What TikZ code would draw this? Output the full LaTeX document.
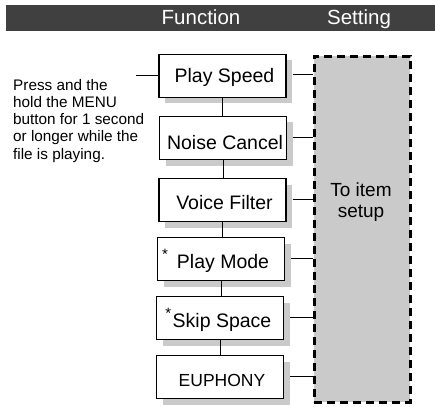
\documentclass[tikz,border=0pt]{standalone}
\usepackage{fontspec}
\setmainfont{Liberation Sans}
\usetikzlibrary{shadows}
\definecolor{hdr}{HTML}{404040}
\definecolor{shd}{HTML}{CACACA}
\newcommand{\astr}{\raisebox{9pt}{\fontsize{15}{15}\selectfont *}}
\begin{document}
\begin{tikzpicture}[x=1pt,y=-1pt,
  fbox/.style={draw=black, line width=1.1pt, fill=white,
    minimum width=127pt, minimum height=43pt, inner sep=0pt,
    text height=18pt, text depth=0pt,
    general shadow={fill=shd, shadow xshift=6pt, shadow yshift=-6pt},
    font=\fontsize{19.5}{22}\selectfont,
    execute at begin node=\hspace*{4pt}},
  conn/.style={line width=1pt},
  hdrtext/.style={text=white, font=\fontsize{20.5}{24}\selectfont, inner sep=0pt, anchor=base}
  ]
\useasboundingbox (0,0) rectangle (435,406);
% header
\fill[hdr] (6,5) rectangle (435,31);
\node[hdrtext] (hf) at (201,25) {Function};
\node[hdrtext] (hs) at (359,25) {Setting};
% setting box
\node[draw=black, dash pattern=on 8pt off 5pt, line width=2.6pt, fill=shd,
  minimum width=96pt, minimum height=346pt, inner sep=0pt, anchor=north west] (set) at (313,55) {};
\node[align=center, anchor=north, inner sep=0pt,
  font=\fontsize{19}{20.5}\selectfont] (to) at (361,183) {To item\\setup};
% function boxes
\node[fbox, text height=14pt] (ps) at (222.5,76) {Play Speed};
\node[fbox, text height=22pt] (nc) at (223,138) {Noise Cancel};
\node[fbox] (vf) at (222.5,200) {Voice Filter};
\node[fbox] (pm) at (221,259) {\llap{\astr\hspace{9pt}}Play Mode};
\node[fbox] (ss) at (220,318) {\llap{\astr\hspace{1.5pt}}Skip Space};
\node[fbox, font=\fontsize{17.5}{20}\selectfont] (eu) at (220,377) {EUPHONY};
% left text
\node[align=left, anchor=north west, inner sep=0pt,
  font=\fontsize{15.3}{17.2}\selectfont] (txt) at (13,79)
  {Press and the\\hold the MENU\\button for 1 second\\or longer while the\\file is playing.};
% connectors
\draw[conn] (ps.west) -- ++(-22,0);
\foreach \a/\b in {ps/nc, nc/vf, vf/pm, pm/ss, ss/eu}{
  \draw[conn] (\a.south) -- (\a.south |- \b.north);
}
\foreach \a in {ps, nc, vf, pm, ss, eu}{
  \draw[conn] ([xshift=6pt,yshift=1pt]\a.east) -- ([yshift=1pt]set.west |- \a.east);
}
\end{tikzpicture}
\end{document}
